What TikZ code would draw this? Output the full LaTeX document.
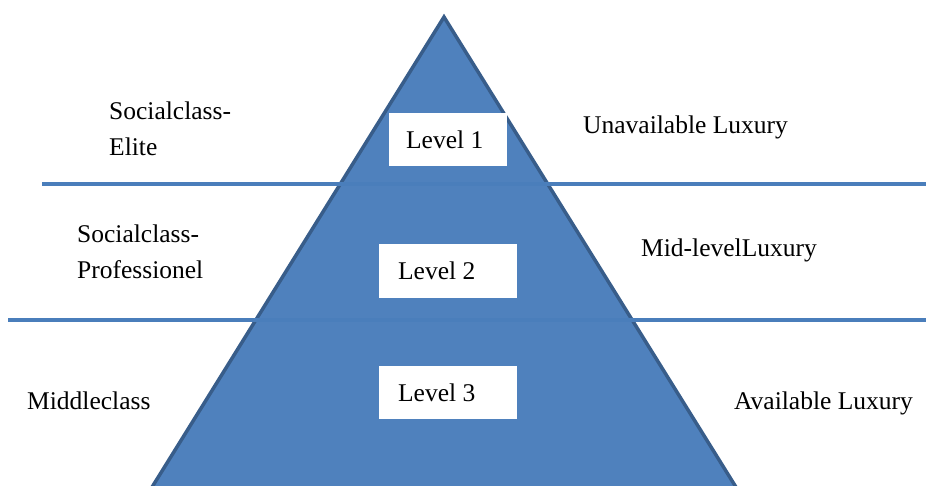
\documentclass[tikz,border=0pt]{standalone}
\usepackage{fontspec}
\setmainfont{Liberation Serif}
\definecolor{triFill}{HTML}{4F81BD}
\definecolor{triEdge}{HTML}{385D8A}
\definecolor{bandLine}{HTML}{4A7EBB}
\begin{document}
\begin{tikzpicture}[x=1pt,y=-1pt,
  every node/.style={font=\fontsize{25.5}{36}\selectfont, text=black},
  tri/.style={fill=triFill, draw=triEdge, line width=3.5pt, line join=miter},
  band/.style={draw=bandLine, line width=4pt},
  lbl/.style={inner sep=0pt, anchor=base west, align=left},
  lvlbox/.style={fill=white, draw=none, rectangle, anchor=north west, inner sep=0pt}
]
\useasboundingbox (0,0) rectangle (926,486);
\clip (0,0) rectangle (926,486);
% pyramid
\coordinate (apex) at (444,17);
\coordinate (bl) at (149,492);
\coordinate (br) at (739,492);
\draw[tri] (apex) -- (br) -- (bl) -- cycle;
% band lines
\coordinate (l1s) at (42,184);
\coordinate (l1e) at (926,184);
\coordinate (l2s) at (8,320);
\coordinate (l2e) at (926,320);
\draw[band] (l1s) -- (l1e);
\draw[band] (l2s) -- (l2e);
% level boxes
\node[lvlbox, minimum width=118pt, minimum height=53pt] (lv1) at (389,113) {Level 1\kern7pt};
\node[lvlbox, minimum width=138pt, minimum height=54pt] (lv2) at (379,244) {Level 2\kern23pt};
\node[lvlbox, minimum width=138pt, minimum height=53pt] (lv3) at (379,366) {Level 3\kern23pt};
% left labels
\node[lbl] (elite) at (109,156) {Socialclass-\\Elite};
\node[lbl] (prof) at (77,279) {Socialclass-\\Professionel};
\node[lbl] (midc) at (27,409) {Middleclass};
% right labels
\node[lbl] (unav) at (583,134) {Unavailable Luxury};
\node[lbl] (midl) at (641,257) {Mid-levelLuxury};
\node[lbl] (avail) at (734,409) {Available Luxury};
\end{tikzpicture}
\end{document}
